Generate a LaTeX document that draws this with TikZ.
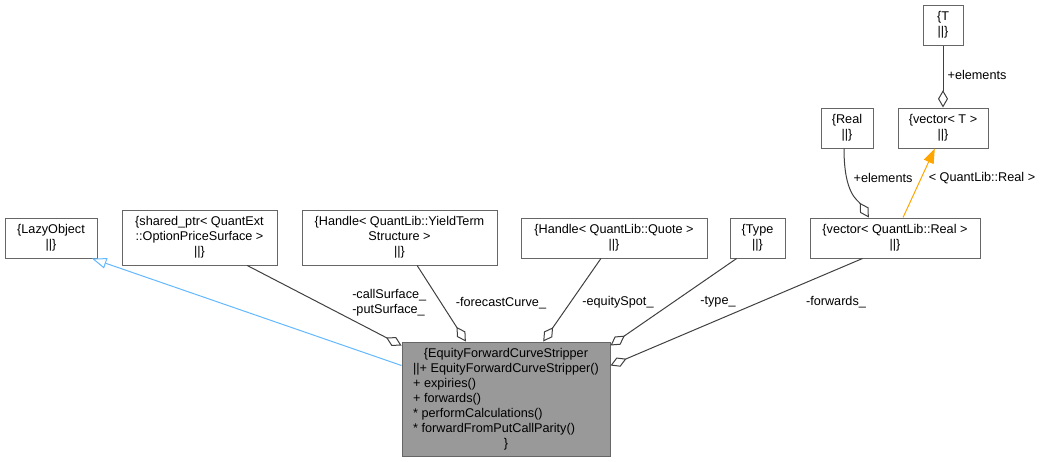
\documentclass[tikz,border=0pt]{standalone}
\usepackage{fontspec}
\setmainfont{Liberation Sans}
\usetikzlibrary{arrows.meta,calc}
\definecolor{edgegray}{HTML}{404040}
\definecolor{boxgray}{HTML}{666666}
\definecolor{mainfill}{HTML}{999999}
\definecolor{inhblue}{HTML}{63B8FF}
\definecolor{tmplorange}{HTML}{FFA500}
\tikzset{
  txt/.style={font=\fontsize{9.5}{11.25}\selectfont},
  cls/.style={txt, draw=boxgray, line width=0.75pt, fill=white, inner sep=0pt, align=center},
  lbl/.style={txt, inner sep=0pt, align=left},
  agg/.style={draw=edgegray, line width=0.75pt, -{Diamond[open,length=13pt,width=7.5pt]}},
  inh/.style={draw=inhblue, line width=0.75pt, -{Triangle[open,length=11pt,width=8pt]}},
  tmpl/.style={draw=tmplorange, line width=0.75pt, -{Triangle[length=11pt,width=8pt,fill=tmplorange]}},
}
\begin{document}
\begin{tikzpicture}[x=0.75pt,y=-0.75pt]
\useasboundingbox (0,0) rectangle (1043,461);
% classes
\node[cls, minimum width=69pt, minimum height=30pt] (lazy) at (51,238) {\{LazyObject\\||\}};
\node[cls, minimum width=116.25pt, minimum height=41.25pt] (sp) at (199.5,237.5) {\{shared\_ptr< QuantExt\\::OptionPriceSurface >\\||\}};
\node[cls, minimum width=146.25pt, minimum height=41.25pt] (yts) at (399.5,237.5) {\{Handle< QuantLib::YieldTerm\\Structure >\\||\}};
\node[cls, minimum width=139.5pt, minimum height=30pt] (quote) at (614,238) {\{Handle< QuantLib::Quote >\\||\}};
\node[cls, minimum width=41.25pt, minimum height=30pt] (type) at (757.5,238) {\{Type\\||\}};
\node[cls, minimum width=127.5pt, minimum height=30pt] (vreal) at (895,238) {\{vector< QuantLib::Real >\\||\}};
\node[cls, minimum width=39pt, minimum height=30pt] (real) at (847,128) {\{Real\\||\}};
\node[cls, minimum width=67.5pt, minimum height=30pt] (vt) at (943,128) {\{vector< T >\\||\}};
\node[cls, minimum width=30pt, minimum height=30pt] (T) at (943,25) {\{T\\||\}};
\node[cls, fill=mainfill, minimum width=156pt, minimum height=85.5pt] (main) at (506,399) {\begin{tabular}{@{}l@{}}\multicolumn{1}{@{}c@{}}{\{EquityForwardCurveStripper}\\
||+ EquityForwardCurveStripper()\\
+ expiries()\\
+ forwards()\\
{*} performCalculations()\\
{*} forwardFromPutCallParity()\\
\multicolumn{1}{@{}c@{}}{\}}\end{tabular}};
% edges
\draw[inh] ([yshift=-18pt]main.north west) -- ($(lazy.south west)!0.94!(lazy.south east)$);
\draw[agg] ($(sp.south west)!0.806!(sp.south east)$) -- ([yshift=-3pt]main.north west);
\draw[agg] ($(yts.south west)!0.59!(yts.south east)$) -- ($(main.north west)!0.308!(main.north east)$);
\draw[agg] ($(quote.south west)!0.43!(quote.south east)$) -- ($(main.north west)!0.678!(main.north east)$);
\draw[agg] ($(type.south west)!0.127!(type.south east)$) -- ([yshift=-3pt]main.north east);
\draw[agg] ($(vreal.south west)!0.31!(vreal.south east)$) -- ([yshift=-18pt]main.north east);
\draw[agg] ([xshift=-2.25pt]real.south) .. controls (844,195) and (858,200) .. ($(vreal.north west)!0.347!(vreal.north east)$);
\draw[tmpl] ($(vreal.north west)!0.547!(vreal.north east)$) -- ($(vt.south west)!0.41!(vt.south east)$);
\draw[agg] (T.south) -- (vt.north);
% labels
\node[lbl, anchor=west] (l1) at (352,303) {-callSurface\_\\-putSurface\_};
\node[lbl] (l2) at (501,303) {-forecastCurve\_};
\node[lbl] (l3) at (618,302) {-equitySpot\_};
\node[lbl] (l4) at (718,302) {-type\_};
\node[lbl] (l5) at (836,302) {-forwards\_};
\node[lbl] (l6) at (883,178) {+elements};
\node[lbl] (l7) at (982,178) {< QuantLib::Real >};
\node[lbl] (l8) at (977,75) {+elements};
\end{tikzpicture}
\end{document}
